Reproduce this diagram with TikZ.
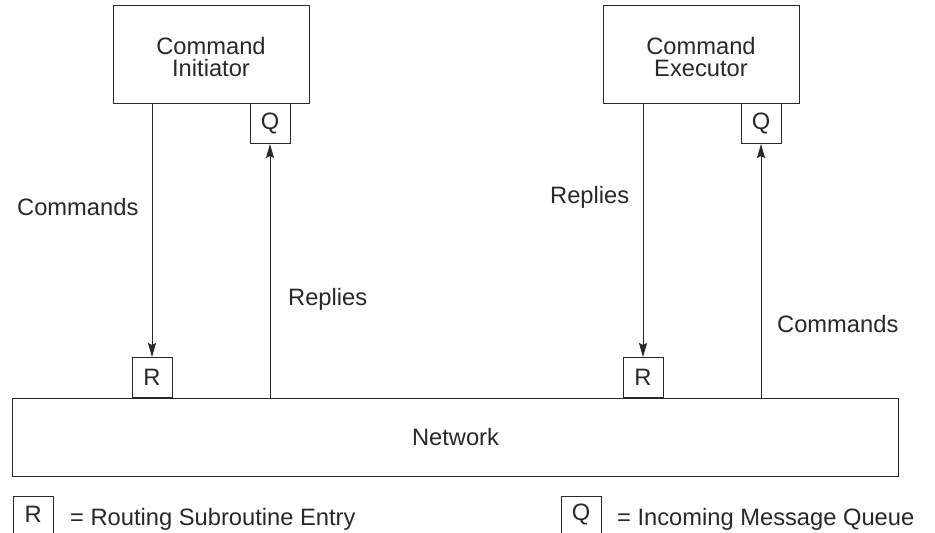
\documentclass[tikz,border=0pt]{standalone}
\usepackage{fontspec}
\setmainfont{Liberation Sans}
\usetikzlibrary{arrows.meta}
\definecolor{ink}{RGB}{40,40,40}
\begin{document}
\begin{tikzpicture}[x=1pt,y=-1pt,
  every node/.style={inner sep=0pt, text=ink, font=\fontsize{23.7}{22}\selectfont},
  bigbox/.style={draw=ink, line width=1pt, anchor=north west, minimum width=196pt, minimum height=98pt},
  smallbox/.style={draw=ink, line width=1pt, minimum width=40pt, minimum height=40pt},
  netbox/.style={draw=ink, line width=1pt, anchor=north west, minimum width=886pt, minimum height=78pt},
  legbox/.style={minimum width=40pt, minimum height=37pt},
  arr/.style={draw=ink, line width=1pt, -{Stealth[length=14pt,width=8pt,inset=2pt]}},
  lbl/.style={anchor=base west}
]
\useasboundingbox (0,0) rectangle (935,533);

% main boxes
\node[bigbox] (ci) at (113,5) {};
\node[align=center] (citext) at (211,57.5) {Command\\Initiator};
\node[bigbox] (ce) at (603,5) {};
\node[align=center] (cetext) at (701,57.5) {Command\\Executor};

% queues
\node[smallbox, anchor=north] (qi) at (270,103) {Q};
\node[smallbox, anchor=north] (qe) at (761,103) {Q};

% network
\node[netbox] (net) at (12,398) {Network};

% routing boxes
\node[smallbox, anchor=south] (rl) at (152,398) {R};
\node[smallbox, anchor=south] (rr) at (643,398) {R};

% connectors
\draw[arr] (ci.south -| rl.north) -- (rl.north);
\draw[arr] (net.north -| qi.south) -- (qi.south);
\draw[arr] (ce.south -| rr.north) -- (rr.north);
\draw[arr] (net.north -| qe.south) -- (qe.south);

% labels
\node[lbl] (l1) at (17,215) {Commands};
\node[lbl] (l2) at (288,305) {Replies};
\node[lbl] (l3) at (550,203) {Replies};
\node[lbl] (l4) at (777,332) {Commands};

% legend
\node[legbox, anchor=north west] (legr) at (13,496) {R};
\draw[draw=ink, line width=1pt] (legr.south west) -- (legr.north west) -- (legr.north east) -- (legr.south east);
\node[lbl] (legrt) at (70,525) {= Routing Subroutine Entry};
\node[legbox, anchor=north west] (legq) at (561,496) {Q};
\draw[draw=ink, line width=1pt] (legq.south west) -- (legq.north west) -- (legq.north east) -- (legq.south east);
\node[lbl] (legqt) at (617,525) {= Incoming Message Queue};
\end{tikzpicture}
\end{document}
